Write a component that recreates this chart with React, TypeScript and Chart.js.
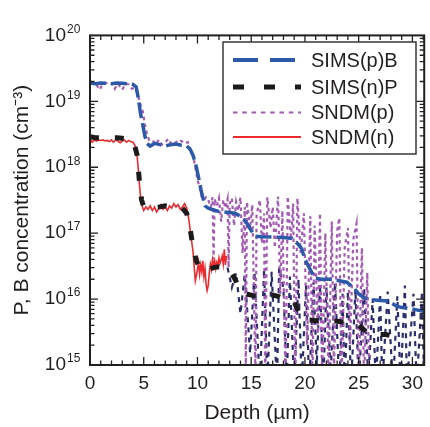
import React, { useEffect, useRef } from 'react';
import { Chart, registerables } from 'chart.js';

Chart.register(...registerables);

// ---------- data: [depth (µm), concentration (cm^-3)] ----------
const simsB: [number, number][] = [
  [0, 1.9e19], [0.5, 1.85e19], [1, 1.9e19], [1.5, 1.88e19], [2, 1.85e19], [2.5, 1.9e19], [3, 1.88e19],
  [3.5, 1.85e19], [4, 1.8e19], [4.3, 1.65e19], [4.5, 1.1e19], [4.7, 6.5e18], [4.9, 4.5e18], [5.1, 3.0e18],
  [5.3, 2.3e18], [5.6, 2.1e18], [6, 2.3e18], [6.5, 2.2e18], [7, 2.1e18], [7.5, 2.2e18], [8, 2.25e18],
  [8.5, 2.15e18], [9, 2.1e18], [9.3, 1.9e18], [9.6, 1.5e18], [9.9, 1.0e18], [10.1, 7e17], [10.4, 4e17],
  [10.7, 2.6e17], [11, 2.4e17], [11.9, 2.15e17], [12.5, 2.1e17], [13.5, 2.0e17], [14, 1.8e17], [14.5, 1.5e17],
  [15, 1.1e17], [15.4, 9e16], [16, 8.8e16], [17, 8.7e16], [18, 8.6e16], [18.8, 8.3e16], [19.3, 7e16],
  [19.7, 5.8e16], [20, 4e16], [20.4, 3e16], [20.9, 2.1e16], [21.5, 2e16], [22.5, 2e16], [23.2, 1.9e16],
  [23.9, 1.8e16], [24.5, 1.5e16], [25, 1.2e16], [25.5, 1.05e16], [26.1, 9.8e15], [27, 9.5e15], [27.8, 9.3e15],
  [28.4, 8e15], [28.9, 7.5e15], [29.7, 7.2e15], [30.5, 6.8e15], [31.1, 6.5e15],
];

const simsP: [number, number][] = [
  [0, 2.9e18], [0.5, 2.8e18], [1, 2.8e18], [1.5, 2.75e18], [2, 2.8e18], [2.5, 2.8e18], [3, 2.75e18],
  [3.5, 2.7e18], [4, 2.5e18], [4.2, 2.0e18], [4.4, 1.5e18], [4.6, 6e17], [4.8, 3.2e17], [5, 2.5e17],
  [5.5, 2.5e17], [6, 2.4e17], [6.5, 2.5e17], [7, 2.6e17], [7.5, 2.5e17], [8, 2.5e17], [8.6, 2.4e17],
  [9, 2.0e17], [9.3, 1.2e17], [9.6, 6e16], [9.9, 3.8e16], [10.2, 3e16], [10.6, 2.7e16], [11, 2.8e16],
  [11.5, 3e16], [12, 3.1e16], [12.5, 3e16], [13, 2.7e16], [13.5, 2e16], [14, 1.35e16], [14.5, 1.2e16],
  [15, 1.15e16], [15.5, 1.1e16], [16, 1.15e16], [16.5, 1.15e16], [17, 1.15e16], [17.5, 1.1e16], [18, 1.0e16],
  [18.5, 9.5e15], [19, 9e15], [19.5, 6e15], [20, 4.8e15], [20.5, 4.8e15], [21, 4.7e15], [21.5, 4.8e15],
  [22, 4.8e15], [22.5, 4.7e15], [23, 4.6e15], [23.5, 4.5e15], [24, 4.4e15], [24.5, 4.2e15], [25, 4e15],
  [25.5, 3.4e15], [26, 2.9e15], [26.5, 2.9e15], [27, 2.9e15], [27.5, 2.9e15], [28, 2.8e15],
];

const sndmP: [number, number][] = [
  [0, 1.85e19], [0.3, 1.9e19], [0.6, 1.8e19], [0.9, 1.5e19], [1.2, 1.85e19], [1.5, 1.9e19], [1.8, 1.8e19],
  [2.1, 1.85e19], [2.3, 1.55e19], [2.6, 1.85e19], [3, 1.5e19], [3.3, 1.85e19], [3.6, 1.8e19], [3.9, 1.55e19],
  [4.2, 1.6e19], [4.4, 1.35e19], [4.7, 9e18], [4.9, 7.2e18], [5.1, 4.5e18], [5.3, 3.2e18], [5.5, 2.6e18],
  [5.8, 2.6e18], [6.1, 2.2e18], [6.4, 2.6e18], [6.7, 2.2e18], [7, 2.4e18], [7.3, 2.7e18], [7.6, 2.2e18],
  [7.9, 2.3e18], [8.2, 2.6e18], [8.5, 2.5e18], [8.8, 2.3e18], [9.1, 2.4e18], [9.4, 1.7e18], [9.6, 1.5e18],
  [9.8, 1.0e18], [10, 6.5e17], [10.2, 5e17], [10.4, 3.5e17], [10.6, 3.2e17], [10.8, 3.5e17], [11, 3.4e17],
  [11.2, 2.2e17], [11.4, 3.5e17], [11.5, 4e16], [11.6, 3.3e17], [11.8, 2.6e17], [12, 3.4e17], [12.2, 1.5e17],
  [12.4, 3.2e17], [12.6, 2.4e17], [12.8, 3.3e17], [12.9, 3e16], [13, 2.8e17], [13.2, 3.4e17], [13.4, 1.3e17],
  [13.6, 3.0e17], [13.8, 2.2e17], [14, 3.5e17], [14.2, 5e16], [14.4, 2.5e17], [14.5, 8e14], [14.6, 3.0e17],
  [14.9, 1.2e17], [15.1, 2.7e17], [15.4, 6e14], [15.5, 1.9e17], [15.8, 3.2e17], [16, 7e16], [16.2, 2.0e17],
  [16.3, 5e14], [16.5, 3.5e17], [16.8, 1.2e17], [17, 2.5e17], [17.2, 6e16], [17.5, 3.6e17], [17.7, 1.2e16],
  [17.9, 2.2e17], [18.2, 5e14], [18.4, 3.6e17], [18.7, 8e16], [18.9, 2.8e17], [19.1, 5e14], [19.3, 3.4e17],
  [19.6, 5e16], [19.9, 2.0e17], [20.2, 2e15], [20.5, 1.8e17], [20.7, 5e14], [20.9, 1.3e17], [21.2, 3e15],
  [21.4, 2.0e17], [21.6, 5e14], [21.9, 1.0e17], [22.2, 6e14], [22.5, 1.5e17], [22.7, 8e14], [23, 1.1e17],
  [23.2, 1.7e17], [23.4, 5e14], [23.7, 6e16], [24, 1.2e17], [24.2, 2e15], [24.5, 8e16], [24.8, 1.4e17],
  [25, 5e14], [25.3, 6e16], [25.5, 5e14], [25.8, 2.5e16], [26, 5e14],
];

const sndmN: [number, number][] = [
  [0, 2.7e18], [0.2, 2.4e18], [0.4, 2.6e18], [0.6, 2.5e18], [0.8, 2.6e18], [1, 2.55e18], [1.2, 2.6e18],
  [1.4, 2.5e18], [1.6, 2.55e18], [1.8, 2.45e18], [2, 2.6e18], [2.2, 2.4e18], [2.4, 2.6e18], [2.6, 2.5e18],
  [2.8, 2.35e18], [3, 2.5e18], [3.2, 2.6e18], [3.4, 2.4e18], [3.6, 2.55e18], [3.8, 2.45e18], [4, 2.4e18],
  [4.2, 2.1e18], [4.4, 1.4e18], [4.5, 9e17], [4.6, 5.5e17], [4.7, 3.6e17], [4.8, 2.9e17], [4.9, 2.4e17],
  [5, 2.2e17], [5.2, 2.5e17], [5.4, 2.3e17], [5.6, 2.6e17], [5.8, 2.2e17], [6, 2.5e17], [6.2, 2.1e17],
  [6.4, 2.4e17], [6.6, 2.7e17], [6.8, 2.3e17], [7, 2.5e17], [7.2, 2.2e17], [7.4, 2.6e17], [7.6, 2.4e17],
  [7.8, 2.8e17], [8, 2.5e17], [8.2, 2.7e17], [8.4, 2.3e17], [8.6, 2.5e17], [8.8, 2.8e17], [9, 2.4e17],
  [9.2, 1.6e17], [9.4, 9e16], [9.6, 5e16], [9.7, 3e16], [9.8, 1.9e16], [9.9, 2.3e16], [10, 2.8e16],
  [10.1, 3.6e16], [10.2, 2.4e16], [10.3, 3.3e16], [10.4, 2.6e16], [10.5, 3.8e16], [10.6, 2.2e16],
  [10.7, 2.9e16], [10.8, 1.7e16], [10.9, 1.35e16], [11, 1.6e16], [11.1, 2.5e16], [11.2, 3.4e16],
  [11.3, 2.8e16], [11.4, 4e16], [11.5, 3.3e16], [11.6, 3.8e16], [11.7, 2.9e16], [11.8, 3.6e16],
  [11.9, 3.2e16], [12, 4.2e16], [12.1, 3.5e16], [12.2, 3.9e16], [12.3, 4.5e16], [12.4, 3.4e16],
  [12.5, 5.7e16], [12.6, 3.3e16], [12.7, 4.5e16],
];

// noisy low-level tail of the n-type SIMS profile (dotted, not in legend)
const simsPNoise: [number, number][] = [
  [12.8, 3e16], [13.2, 1.5e16], [13.6, 2.5e16], [14, 6e15], [14.4, 2.4e16], [14.9, 1.5e15], [15.3, 2.6e16],
  [15.8, 5e14], [16.2, 2.8e16], [16.5, 5e14], [16.9, 2.6e16], [17.4, 5e14], [17.6, 3e16], [18, 1.5e16],
  [18.3, 5e14], [18.6, 2.2e16], [19, 5e14], [19.4, 2e16], [19.7, 5e14], [20.1, 1.6e16], [20.4, 5e14],
  [20.8, 1.8e16], [21.1, 1e15], [21.4, 1.7e16], [21.7, 5e14], [22, 1.5e16], [22.4, 8e14], [22.8, 1.8e16],
  [23.2, 5e14], [23.5, 1.2e16], [23.7, 5e14], [24, 1.3e16], [24.3, 5e14], [24.7, 1.4e16], [25, 5e14],
  [25.5, 1.5e16], [25.9, 6e14], [26.3, 1.0e16], [26.6, 5e14], [27, 1.2e16], [27.2, 5e14], [27.7, 1.3e16],
  [28.2, 5e14], [28.6, 1.1e16], [28.9, 5e14], [29.3, 1.6e16], [29.5, 5e14], [30.1, 1.2e16], [30.4, 5e14],
  [30.9, 1.3e16], [31.1, 5e14],
];

const xTickValues = [0, 5, 10, 15, 20, 25, 30];
const yExponents = [15, 16, 17, 18, 19, 20];
const legendLabels = ['SIMS(p)B', 'SIMS(n)P', 'SNDM(p)', 'SNDM(n)'];

const FONT = '"Liberation Sans", Arial, Helvetica, sans-serif';
const INK = '#231f20';
const BLUE = '#2c5aa8';
const BLACK = '#1c1a1b';
const PURPLE = '#a45bb3';
const RED = '#ec2a2e';
const NAVY = '#2b2d6b';

const toPts = (arr: [number, number][]) => arr.map(([x, y]) => ({ x, y }));

const framePlugin = {
  id: 'frameTicksLegend',
  afterDatasetsDraw(chart: any) {
    const { ctx, chartArea: a, scales } = chart;
    const xs = scales.x;
    const ys = scales.y;
    ctx.save();
    // inward tick marks on all four sides
    ctx.strokeStyle = INK;
    ctx.lineWidth = 1.3;
    ctx.beginPath();
    for (let v = 0; v <= 31; v++) {
      const px = xs.getPixelForValue(v);
      if (px > a.right + 0.5) break;
      const len = v % 5 === 0 ? 8 : 4.5;
      ctx.moveTo(px, a.bottom);
      ctx.lineTo(px, a.bottom - len);
      ctx.moveTo(px, a.top);
      ctx.lineTo(px, a.top + len);
    }
    for (let i = 0; i < yExponents.length - 1; i++) {
      for (let m = 1; m <= 9; m++) {
        const py = ys.getPixelForValue(m * Math.pow(10, yExponents[i]));
        const len = m === 1 ? 8 : 4.5;
        ctx.moveTo(a.left, py);
        ctx.lineTo(a.left + len, py);
        ctx.moveTo(a.right, py);
        ctx.lineTo(a.right - len, py);
      }
    }
    ctx.stroke();
    // frame
    ctx.lineWidth = 2;
    ctx.strokeRect(a.left, a.top, a.right - a.left, a.bottom - a.top);

    // exponents of y tick labels
    ctx.fillStyle = INK;
    ctx.font = `12px ${FONT}`;
    ctx.textAlign = 'left';
    ctx.textBaseline = 'middle';
    for (const e of yExponents) {
      const py = ys.getPixelForValue(Math.pow(10, e));
      ctx.fillText(String(e), a.left - 23, py - 6);
    }

    // legend
    const bx = 223, by = 42, bw = 193, bh = 112;
    ctx.fillStyle = '#ffffff';
    ctx.fillRect(bx, by, bw, bh);
    ctx.lineWidth = 1.5;
    ctx.strokeStyle = '#3a3738';
    ctx.strokeRect(bx, by, bw, bh);
    const rows = [60, 87, 112.5, 137];
    const styles = [
      { color: BLUE, width: 4, dash: [25, 12] },
      { color: BLACK, width: 5, dash: [11, 20] },
      { color: PURPLE, width: 2, dash: [4.5, 4.8] },
      { color: RED, width: 2, dash: [] as number[] },
    ];
    ctx.textBaseline = 'middle';
    ctx.font = `20px ${FONT}`;
    legendLabels.forEach((label, i) => {
      const s = styles[i];
      const y = rows[i];
      ctx.beginPath();
      ctx.setLineDash(s.dash);
      ctx.strokeStyle = s.color;
      ctx.lineWidth = s.width;
      ctx.moveTo(233, y);
      ctx.lineTo(301, y);
      ctx.stroke();
      ctx.setLineDash([]);
      ctx.fillStyle = INK;
      ctx.fillText(label, 311, y + 1);
    });
    ctx.restore();
  },
};

export default function App() {
  const ref = useRef<HTMLCanvasElement | null>(null);
  useEffect(() => {
    if (!ref.current) return;
    const common = { pointRadius: 0, tension: 0, fill: false, spanGaps: true };
    const chart = new Chart(ref.current, {
      type: 'line',
      data: {
        datasets: [
          { ...common, label: legendLabels[0], data: toPts(simsB), borderColor: BLUE, borderWidth: 3.5, borderDash: [16, 5] },
          { ...common, label: legendLabels[1], data: toPts(simsP), borderColor: BLACK, borderWidth: 5, borderDash: [9, 16] },
          { ...common, label: legendLabels[3], data: toPts(sndmN), borderColor: RED, borderWidth: 1.6 },
          { ...common, label: legendLabels[2], data: toPts(sndmP), borderColor: PURPLE, borderWidth: 2.2, borderDash: [3.5, 3.5] },
          { ...common, label: 'SIMS(n)P noise', data: toPts(simsPNoise), borderColor: NAVY, borderWidth: 2.2, borderDash: [5, 5] },
        ] as any,
      },
      options: {
        responsive: false,
        animation: false,
        devicePixelRatio: 1,
        layout: { padding: { top: 18, right: 1, left: 0, bottom: 0 } },
        plugins: { legend: { display: false }, tooltip: { enabled: false } },
        scales: {
          x: {
            type: 'linear',
            min: 0,
            max: 31.1,
            grid: { display: false, drawTicks: false },
            border: { display: false },
            afterFit: (s: any) => { s.height = 62; },
            afterBuildTicks: (s: any) => { s.ticks = xTickValues.map((v) => ({ value: v })); },
            ticks: {
              font: { family: FONT, size: 19 },
              color: INK,
              padding: 7,
              maxRotation: 0,
              autoSkip: false,
            },
            title: {
              display: true,
              text: 'Depth (µm)',
              font: { family: FONT, size: 21 },
              color: INK,
              padding: { top: 0, bottom: 1 },
            },
          },
          y: {
            type: 'logarithmic',
            min: 1e15,
            max: 1e20,
            grid: { display: false, drawTicks: false },
            border: { display: false },
            afterFit: (s: any) => { s.width = 90; },
            afterBuildTicks: (s: any) => { s.ticks = yExponents.map((e) => ({ value: Math.pow(10, e) })); },
            ticks: {
              font: { family: FONT, size: 19 },
              color: INK,
              padding: 24,
              autoSkip: false,
              callback: () => '10',
            },
            title: {
              display: true,
              text: 'P, B concentration (cm⁻³)',
              font: { family: FONT, size: 21 },
              color: INK,
              padding: { top: 10, bottom: 0 },
            },
          },
        },
      } as any,
      plugins: [framePlugin],
    });
    return () => chart.destroy();
  }, []);
  return (
    <div style={{ position: 'absolute', left: 0, top: 0, width: 430, height: 427, background: '#fff' }}>
      <canvas ref={ref} width={430} height={427} style={{ display: 'block', width: 430, height: 427 }} />
    </div>
  );
}
